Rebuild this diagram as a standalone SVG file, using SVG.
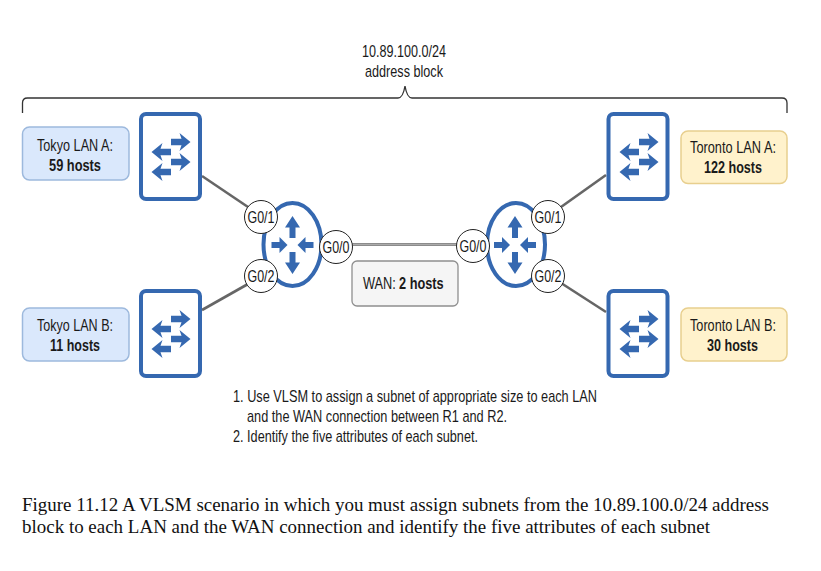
<svg xmlns="http://www.w3.org/2000/svg" width="821" height="571" viewBox="0 0 821 571">
<style>
text{font-family:"Liberation Sans",Arial,sans-serif;font-size:17px;fill:#1a1a1a}
.b{font-weight:700}
.cap{font-family:"Liberation Serif","Times New Roman",serif;font-size:18.3px;fill:#111}
.conn{fill:none;stroke:#666;stroke-width:2.6}
.brace{fill:none;stroke:#333;stroke-width:1.3}
.sw{fill:#fff;stroke:#3568b0;stroke-width:4}
.ro{fill:#fff;stroke:#3568b0;stroke-width:4}
.ar{fill:#3568b0}
.port{fill:#fff;stroke:#222;stroke-width:1}
.bl{fill:#dae8fc;stroke:#9db9dd;stroke-width:1.5}
.ye{fill:#fff2cc;stroke:#e8cf8e;stroke-width:1.5}
.gr{fill:#f5f5f5;stroke:#8f8f8f;stroke-width:1.3}
</style>
<defs>
<path id="ra" d="M0,-3.3H10.500L8.500,-9L19.500,0L8.500,9L10.500,3.300H0Z"/>
<path id="la" d="M0,-3.3H-10.500L-8.500,-9L-19.500,0L-8.500,9L-10.500,3.300H0Z"/>
<g id="swa" class="ar">
<use href="#ra" x="171" y="142"/><use href="#la" x="171" y="152"/>
<use href="#ra" x="171" y="162"/><use href="#la" x="171" y="172"/>
</g>
<g id="roa" class="ar">
<path d="M0,-29L-7.500,-17.500H-3V-7H3V-17.500H7.500Z"/>
<path d="M0,29L-7.500,17.500H-3V7H3V17.500H7.500Z"/>
<path d="M-5,0L-13,-8V-3H-21V3H-13V8Z"/>
<path d="M5,0L13,-8V-3H21V3H13V8Z"/>
</g>
</defs>

<g id="connectors">
<path class="conn" d="M202,176L248,207"/>
<path class="conn" d="M202,310L248,284"/>
<path class="conn" d="M606,175L561,207"/>
<path class="conn" d="M606,312L561,283"/>
<path class="conn" d="M350,244.500H458"/>
<path d="M350,244.500H458" fill="none" stroke="#bdbdbd" stroke-width="0.8"/>
</g>

<g id="address-block">
<text x="362" y="57" textLength="84" lengthAdjust="spacingAndGlyphs">10.89.100.0/24</text>
<text x="365" y="77" textLength="78" lengthAdjust="spacingAndGlyphs">address block</text>
<path class="brace" d="M22.500,113V103Q22.500,98 27.500,98H398Q403,98 405,86Q407,98 412,98H782Q787,98 787,103V113"/>
</g>

<g id="tokyo-lan-a"><rect class="bl" x="22.500" y="127" width="106.500" height="53" rx="7"/>
<text x="37" y="151" textLength="76" lengthAdjust="spacingAndGlyphs">Tokyo LAN A:</text>
<text class="b" x="49" y="171" textLength="52" lengthAdjust="spacingAndGlyphs">59 hosts</text></g>
<g id="tokyo-lan-b"><rect class="bl" x="22.500" y="308" width="106.500" height="53" rx="7"/>
<text x="37" y="331" textLength="76" lengthAdjust="spacingAndGlyphs">Tokyo LAN B:</text>
<text class="b" x="50" y="351" textLength="50" lengthAdjust="spacingAndGlyphs">11 hosts</text></g>
<g id="toronto-lan-a"><rect class="ye" x="681" y="131" width="106" height="52.500" rx="7"/>
<text x="690" y="153" textLength="86" lengthAdjust="spacingAndGlyphs">Toronto LAN A:</text>
<text class="b" x="704" y="173" textLength="58" lengthAdjust="spacingAndGlyphs">122 hosts</text></g>
<g id="toronto-lan-b"><rect class="ye" x="681" y="308" width="106" height="53" rx="7"/>
<text x="690" y="331" textLength="86" lengthAdjust="spacingAndGlyphs">Toronto LAN B:</text>
<text class="b" x="707" y="351" textLength="51" lengthAdjust="spacingAndGlyphs">30 hosts</text></g>

<g id="switch-tokyo-a"><rect class="sw" x="141" y="114" width="59" height="85" rx="5"/><use href="#swa"/></g>
<g id="switch-tokyo-b"><rect class="sw" x="141" y="291" width="59" height="85" rx="5"/><use href="#swa" y="177"/></g>
<g id="switch-toronto-a"><rect class="sw" x="608.500" y="114" width="59" height="85" rx="5"/><use href="#swa" x="468"/></g>
<g id="switch-toronto-b"><rect class="sw" x="608.500" y="291" width="59" height="85" rx="5"/><use href="#swa" x="468" y="177"/></g>

<g id="router-r1"><ellipse class="ro" cx="292.500" cy="244.500" rx="29" ry="41.500"/><use href="#roa" x="292.500" y="245"/>
<circle class="port" cx="261" cy="217" r="16.500"/><text x="247.500" y="223" textLength="27" lengthAdjust="spacingAndGlyphs">G0/1</text>
<circle class="port" cx="261" cy="276" r="16.500"/><text x="247.500" y="282" textLength="27" lengthAdjust="spacingAndGlyphs">G0/2</text>
<circle class="port" cx="336" cy="247" r="16.500"/><text x="322.500" y="253" textLength="27" lengthAdjust="spacingAndGlyphs">G0/0</text></g>

<g id="router-r2"><ellipse class="ro" cx="516" cy="244.500" rx="29" ry="41.500"/><use href="#roa" x="515" y="245"/>
<circle class="port" cx="473" cy="246" r="16.500"/><text x="459.500" y="252" textLength="27" lengthAdjust="spacingAndGlyphs">G0/0</text>
<circle class="port" cx="548" cy="217" r="16.500"/><text x="534.500" y="223" textLength="27" lengthAdjust="spacingAndGlyphs">G0/1</text>
<circle class="port" cx="548" cy="276" r="16.500"/><text x="534.500" y="282" textLength="27" lengthAdjust="spacingAndGlyphs">G0/2</text></g>

<g id="wan-label"><rect class="gr" x="352" y="261" width="106" height="45" rx="5"/>
<text transform="translate(363,289) scale(.75,1)">WAN:</text>
<text class="b" transform="translate(399,289) scale(.75,1)">2 hosts</text></g>

<g id="instructions">
<text x="233" y="402" textLength="364" lengthAdjust="spacingAndGlyphs">1. Use VLSM to assign a subnet of appropriate size to each LAN</text>
<text x="247" y="422" textLength="260" lengthAdjust="spacingAndGlyphs">and the WAN connection between R1 and R2.</text>
<text x="233" y="442" textLength="245" lengthAdjust="spacingAndGlyphs">2. Identify the five attributes of each subnet.</text>
</g>

<text class="cap" x="22" y="511" textLength="747" lengthAdjust="spacingAndGlyphs">Figure 11.12 A VLSM scenario in which you must assign subnets from the 10.89.100.0/24 address</text>
<text class="cap" x="22" y="533" textLength="688" lengthAdjust="spacingAndGlyphs">block to each LAN and the WAN connection and identify the five attributes of each subnet</text>
</svg>
